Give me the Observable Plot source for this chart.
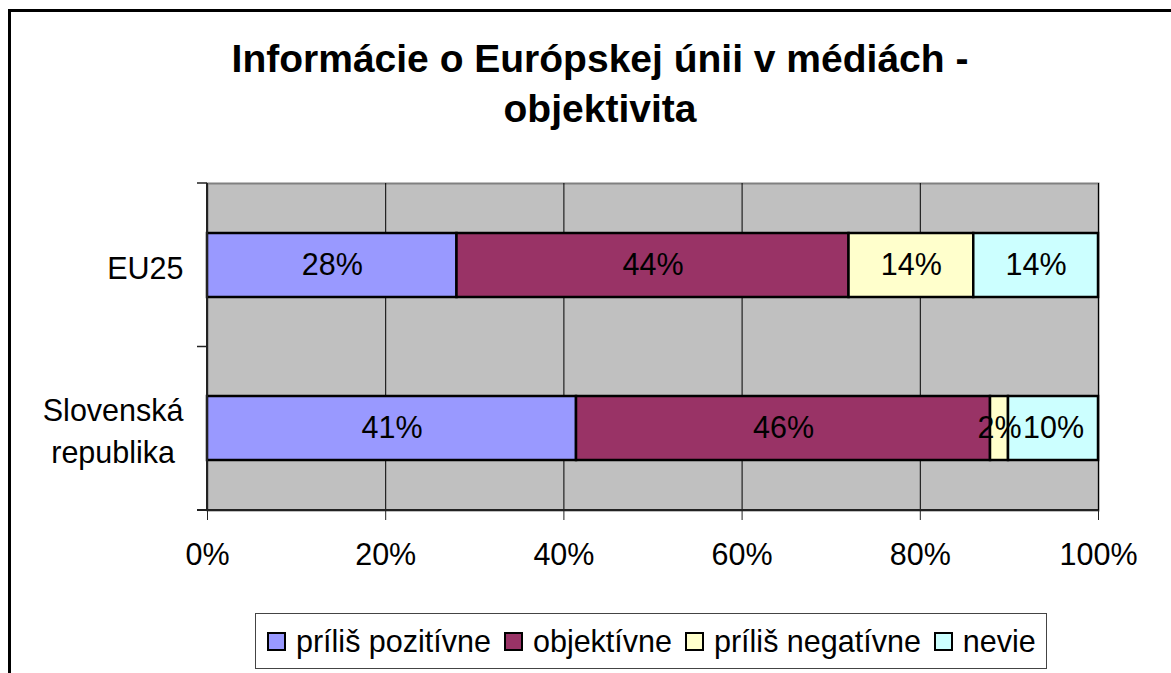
<!DOCTYPE html>
<html>
<head>
<meta charset="utf-8">
<script src="https://cdn.jsdelivr.net/npm/d3@7"></script>
<script src="https://cdn.jsdelivr.net/npm/@observablehq/plot@0.6"></script>
<style>
  html, body { margin: 0; padding: 0; background: #fff; overflow: hidden; }
  #wrap { position: relative; width: 1171px; height: 673px; overflow: hidden; font-family: "Liberation Sans", Arial, sans-serif; }
  #frame { position: absolute; left: 8px; top: 9px; width: 1300px; height: 800px; border: 3px solid #000; box-sizing: border-box; }
  #title { position: absolute; left: 0; top: 34px; width: 1200px; text-align: center; font-weight: bold; font-size: 39px; line-height: 50px; color: #000; }
  #chart { position: absolute; left: 0; top: 0; }
  #legend { position: absolute; left: 255px; top: 613px; width: 792px; height: 56px; border: 1.5px solid #444; box-sizing: border-box; background: #fff;
            display: flex; align-items: center; font-size: 30.5px; color: #000; padding-left: 11px; white-space: nowrap; }
  .sw { width: 15px; height: 15px; border: 2px solid #000; margin-right: 10px; flex: none; }
  .it { display: flex; align-items: center; margin-right: 13px; }
</style>
</head>
<body>
<div id="wrap">
  <div id="frame"></div>
  <div id="title"></div>
  <div id="chart"></div>
  <div id="legend"></div>
</div>
<script>
const titleLines = ["Informácie o Európskej únii v médiách -", "objektivita"];
const categories = ["EU25", "Slovenská republika"];
const categoryLabels = ["EU25", "Slovenská\nrepublika"];
const series = ["príliš pozitívne", "objektívne", "príliš negatívne", "nevie"];
const valuesEU25 = [28, 44, 14, 14];
const valuesSR = [41, 46, 2, 10];
const colors = ["#9999FF", "#993366", "#FFFFCC", "#CCFFFF"];
const xTicks = [0, 0.2, 0.4, 0.6, 0.8, 1];
const xTickLabels = ["0%", "20%", "40%", "60%", "80%", "100%"];

const table = [valuesEU25, valuesSR].flatMap((vals, i) =>
  vals.map((v, j) => ({region: categories[i], series: series[j], value: v}))
);

document.getElementById("title").innerHTML = titleLines.join("<br>");

function axisDecor(index, scales, values, dims) {
  const {width, height, marginLeft, marginRight, marginTop, marginBottom} = dims;
  const x0 = marginLeft, x1 = width - marginRight, y0 = marginTop, y1 = height - marginBottom;
  const g = d3.create("svg:g").attr("stroke", "#222").attr("fill", "none");
  const n = categories.length;
  g.append("line").attr("x1", x0).attr("x2", x0).attr("y1", y0).attr("y2", y1).attr("stroke-width", 2);
  g.append("line").attr("x1", x0 - 10).attr("x2", x1).attr("y1", y1).attr("y2", y1).attr("stroke-width", 2);
  for (let k = 0; k <= n; k++) {
    const y = y0 + k * (y1 - y0) / n;
    g.append("line").attr("x1", x0 - 10).attr("x2", x0).attr("y1", y).attr("y2", y).attr("stroke-width", 1.5);
  }
  return g.node();
}

const chart = Plot.plot({
  width: 1171,
  height: 673,
  marginLeft: 207,
  marginRight: 73,
  marginTop: 183,
  marginBottom: 163,
  style: {fontFamily: "'Liberation Sans', Arial, sans-serif", background: "transparent", color: "#000"},
  x: {domain: [0, 1]},
  y: {domain: categories, paddingInner: 0.6086, paddingOuter: 0.3043},
  color: {domain: series, range: colors},
  marks: [
    Plot.frame({fill: "#C0C0C0", stroke: "#808080", strokeWidth: 2}),
    Plot.gridX(xTicks, {stroke: "#000", strokeOpacity: 1, strokeWidth: 1}),
    Plot.barX(table, Plot.stackX({offset: "normalize", order: series, x: "value", y: "region", z: "series", fill: "series", stroke: "#000", strokeWidth: 2.5})),
    Plot.text(table, Plot.stackX({offset: "normalize", order: series, x: "value", y: "region", z: "series", text: d => d.value + "%", fill: "#000", fontSize: 30.5})),
    axisDecor,
    Plot.axisX(xTicks, {tickSize: 10, tickPadding: 23, fontSize: 30.5, stroke: "#222", tickFormat: (d, i) => xTickLabels[i], label: null}),
    Plot.axisY({tickSize: 0, tickPadding: 24, fontSize: 30.5, lineHeight: 1.38, tickFormat: d => categoryLabels[categories.indexOf(d)], label: null})
  ]
});
document.getElementById("chart").appendChild(chart);

// center multi-line category labels within their block
chart.querySelectorAll('g[aria-label="y-axis tick label"] text').forEach(t => {
  const spans = t.querySelectorAll("tspan");
  if (spans.length > 1) {
    const w = Math.max(...Array.from(spans, s => s.getComputedTextLength()));
    spans.forEach(s => { s.setAttribute("x", -w / 2); s.setAttribute("text-anchor", "middle"); });
  }
});

const legend = document.getElementById("legend");
series.forEach((s, i) => {
  const it = document.createElement("div");
  it.className = "it";
  const sw = document.createElement("div");
  sw.className = "sw";
  sw.style.background = colors[i];
  const tx = document.createElement("span");
  tx.textContent = s;
  it.appendChild(sw);
  it.appendChild(tx);
  legend.appendChild(it);
});
</script>
</body>
</html>
